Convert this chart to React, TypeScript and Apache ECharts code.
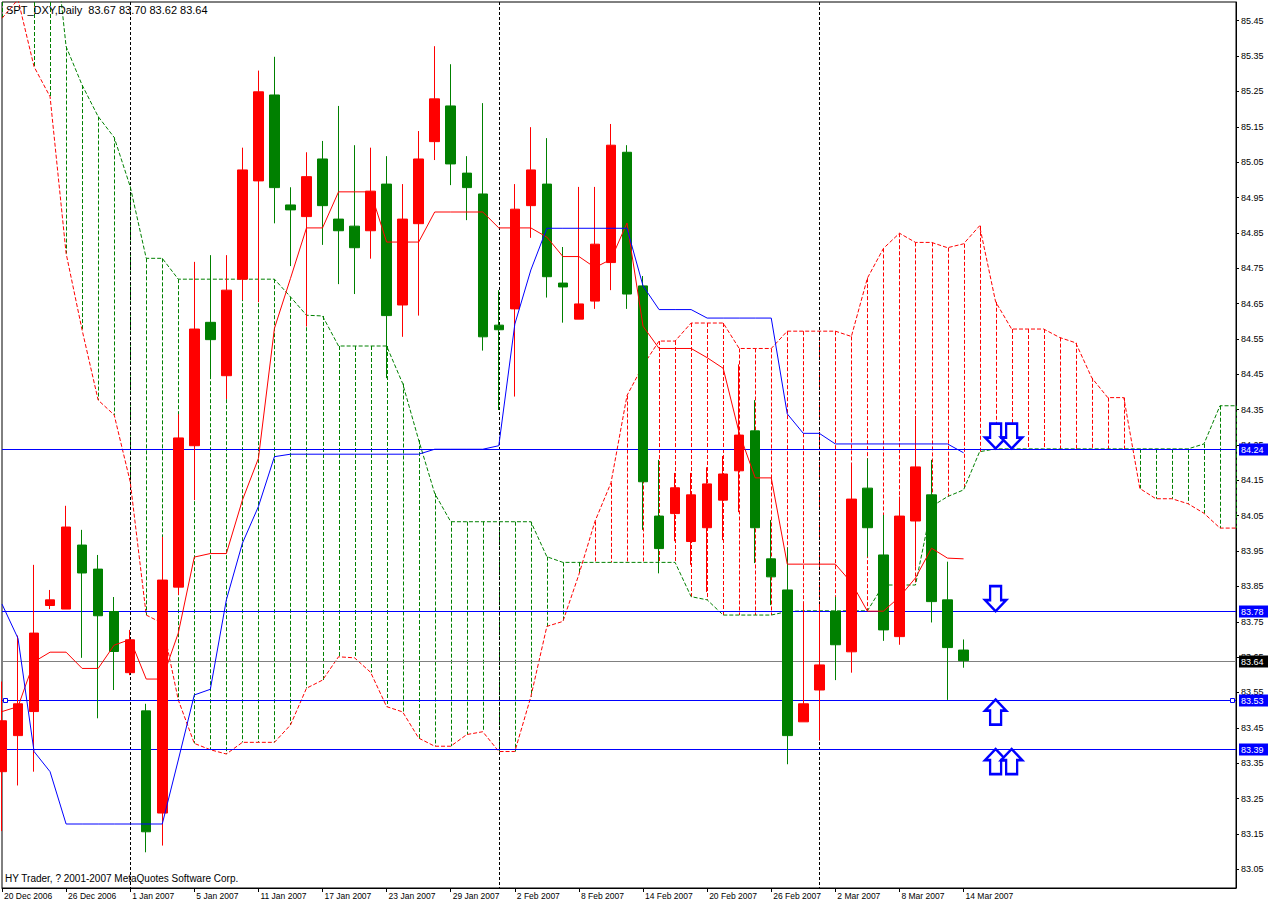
import React, { useEffect, useRef } from "react";
import * as echarts from "echarts";

const dates = [
  "20 Dec 2006", "21 Dec 2006", "22 Dec 2006", "25 Dec 2006", "26 Dec 2006", "27 Dec 2006", "28 Dec 2006", "29 Dec 2006",
  "1 Jan 2007", "2 Jan 2007", "3 Jan 2007", "4 Jan 2007", "5 Jan 2007", "8 Jan 2007", "9 Jan 2007", "10 Jan 2007",
  "11 Jan 2007", "12 Jan 2007", "15 Jan 2007", "16 Jan 2007", "17 Jan 2007", "18 Jan 2007", "19 Jan 2007", "22 Jan 2007",
  "23 Jan 2007", "24 Jan 2007", "25 Jan 2007", "26 Jan 2007", "29 Jan 2007", "30 Jan 2007", "31 Jan 2007", "1 Feb 2007",
  "2 Feb 2007", "5 Feb 2007", "6 Feb 2007", "7 Feb 2007", "8 Feb 2007", "9 Feb 2007", "12 Feb 2007", "13 Feb 2007",
  "14 Feb 2007", "15 Feb 2007", "16 Feb 2007", "19 Feb 2007", "20 Feb 2007", "21 Feb 2007", "22 Feb 2007", "23 Feb 2007",
  "26 Feb 2007", "27 Feb 2007", "28 Feb 2007", "1 Mar 2007", "2 Mar 2007", "5 Mar 2007", "6 Mar 2007", "7 Mar 2007",
  "8 Mar 2007", "9 Mar 2007", "12 Mar 2007", "13 Mar 2007", "14 Mar 2007",
  "15 Mar 2007", "16 Mar 2007", "19 Mar 2007", "20 Mar 2007", "21 Mar 2007", "22 Mar 2007", "23 Mar 2007", "26 Mar 2007",
  "27 Mar 2007", "28 Mar 2007", "29 Mar 2007", "30 Mar 2007", "2 Apr 2007", "3 Apr 2007", "4 Apr 2007", "5 Apr 2007", "6 Apr 2007",
];

const labelDates = [
  "20 Dec 2006", "26 Dec 2006", "1 Jan 2007", "5 Jan 2007", "11 Jan 2007", "17 Jan 2007", "23 Jan 2007", "29 Jan 2007",
  "2 Feb 2007", "8 Feb 2007", "14 Feb 2007", "20 Feb 2007", "26 Feb 2007", "2 Mar 2007", "8 Mar 2007", "14 Mar 2007",
];

const opens = [
  83.326, 83.428, 83.496, 83.796, 83.786, 83.967, 83.899, 83.779, 83.606, 83.498,
  83.209, 83.848, 84.248, 84.597, 84.446, 84.719, 84.997, 85.240, 84.929, 84.896,
  85.059, 84.889, 84.869, 84.856, 84.988, 84.646, 84.876, 85.108, 85.209, 85.019,
  84.960, 84.589, 84.635, 84.927, 84.988, 84.708, 84.606, 84.657, 84.766, 85.078,
  84.700, 84.049, 84.056, 83.977, 84.016, 84.094, 84.177, 84.290, 83.928, 83.840,
  83.467, 83.557, 83.779, 83.665, 84.128, 83.939, 83.708, 84.035, 84.109, 83.812,
  83.67,
];
const highs = [
  83.581, 83.711, 83.911, 83.840, 84.078, 84.010, 83.939, 83.820, 83.727, 83.518,
  83.990, 84.337, 84.768, 84.787, 84.787, 85.091, 85.309, 85.348, 84.979, 85.078,
  85.110, 85.209, 85.098, 85.091, 85.067, 84.988, 85.138, 85.378, 85.327, 85.067,
  85.217, 84.688, 84.988, 85.149, 85.118, 84.810, 84.980, 84.980, 85.158, 85.098,
  84.728, 84.208, 84.171, 84.171, 84.187, 84.219, 84.478, 84.377, 84.038, 83.960,
  83.800, 83.800, 83.820, 84.198, 84.212, 84.052, 84.104, 84.332, 84.208, 83.920,
  83.70,
];
const lows = [
  83.158, 83.287, 83.326, 83.786, 83.786, 83.648, 83.477, 83.557, 83.599, 83.098,
  83.117, 83.826, 84.094, 84.437, 84.380, 84.660, 84.654, 84.877, 84.756, 84.585,
  84.816, 84.705, 84.677, 84.777, 84.439, 84.556, 84.616, 85.056, 84.985, 84.886,
  84.517, 84.349, 84.387, 84.836, 84.667, 84.596, 84.606, 84.635, 84.688, 84.635,
  84.010, 83.887, 83.978, 83.911, 83.834, 83.981, 84.060, 83.916, 83.797, 83.347,
  83.467, 83.414, 83.585, 83.606, 83.934, 83.696, 83.685, 83.906, 83.748, 83.529,
  83.62,
];
const closes = [
  83.470, 83.518, 83.718, 83.812, 84.018, 83.888, 83.767, 83.666, 83.699, 83.156,
  83.868, 84.270, 84.578, 84.548, 84.688, 85.028, 85.249, 84.978, 84.915, 85.009,
  84.927, 84.856, 84.808, 84.968, 84.616, 84.889, 85.059, 85.229, 85.045, 84.978,
  84.556, 84.576, 84.917, 85.028, 84.726, 84.697, 84.649, 84.818, 85.098, 84.677,
  84.146, 83.957, 84.129, 84.109, 84.140, 84.168, 84.278, 84.016, 83.877, 83.428,
  83.518, 83.628, 83.685, 84.097, 84.016, 83.727, 84.049, 84.188, 83.807, 83.677,
  83.64,
];

const tenkan = [
  83.496, 83.510, 83.637, 83.664, 83.664, 83.618, 83.618, 83.684, 83.700, 83.588,
  83.588, 83.718, 83.933, 83.943, 83.943, 84.094, 84.212, 84.580, 84.721, 84.864,
  84.864, 84.966, 84.966, 84.966, 84.824, 84.824, 84.824, 84.909, 84.909, 84.909,
  84.909, 84.864, 84.864, 84.864, 84.838, 84.783, 84.783, 84.752, 84.775, 84.878,
  84.586, 84.523, 84.523, 84.523, 84.497, 84.467, 84.284, 84.157, 84.157, 83.913,
  83.913, 83.913, 83.913, 83.861, 83.780, 83.780, 83.820, 83.874, 83.958, 83.930,
  83.928,
];
const kijun = [
  83.800, 83.703, 83.383, 83.326, 83.178, 83.178, 83.178, 83.178, 83.178, 83.178,
  83.178, 83.359, 83.543, 83.559, 83.812, 83.972, 84.076, 84.217, 84.224, 84.224,
  84.224, 84.224, 84.224, 84.224, 84.224, 84.224, 84.224, 84.238, 84.238, 84.238,
  84.238, 84.248, 84.592, 84.745, 84.863, 84.863, 84.863, 84.863, 84.863, 84.863,
  84.700, 84.633, 84.633, 84.633, 84.609, 84.609, 84.609, 84.609, 84.609, 84.338,
  84.283, 84.283, 84.253, 84.253, 84.253, 84.253, 84.253, 84.253, 84.253, 84.253,
  84.228,
];

const spanA = [
  85.457, 85.510, 85.320, 85.235, 84.792, 84.575, 84.377, 84.335, 84.146, 83.769,
  83.746, 83.529, 83.406, 83.388, 83.376, 83.409, 83.409, 83.409, 83.458, 83.562,
  83.585, 83.651, 83.648, 83.607, 83.510, 83.495, 83.421, 83.398, 83.398, 83.431,
  83.439, 83.383, 83.383, 83.538, 83.737, 83.751, 83.884, 84.034, 84.143, 84.390,
  84.475, 84.544, 84.544, 84.595, 84.595, 84.595, 84.523, 84.523, 84.523, 84.572,
  84.572, 84.572, 84.572, 84.557, 84.722, 84.806, 84.849, 84.823, 84.823, 84.808,
  84.819, 84.870, 84.655, 84.578, 84.578, 84.578, 84.554, 84.539, 84.440, 84.384,
  84.384, 84.127, 84.098, 84.098, 84.084, 84.057, 84.015, 84.015,
];
const spanB = [
  85.800, 85.800, 85.800, 85.800, 85.377, 85.268, 85.179, 85.120, 84.981, 84.778,
  84.778, 84.719, 84.719, 84.719, 84.719, 84.719, 84.719, 84.719, 84.669, 84.617,
  84.615, 84.530, 84.530, 84.530, 84.530, 84.424, 84.264, 84.113, 84.033, 84.033,
  84.033, 84.033, 84.033, 84.033, 83.934, 83.918, 83.918, 83.918, 83.918, 83.918,
  83.918, 83.918, 83.918, 83.821, 83.812, 83.769, 83.769, 83.769, 83.769, 83.779,
  83.781, 83.781, 83.781, 83.781, 83.781, 83.854, 83.854, 83.854, 84.076, 84.104,
  84.123, 84.231, 84.239, 84.239, 84.239, 84.239, 84.239, 84.239, 84.239, 84.239,
  84.239, 84.239, 84.239, 84.239, 84.239, 84.253, 84.361, 84.361,
];

const priceTicks = [
  83.05, 83.15, 83.25, 83.35, 83.45, 83.55, 83.65, 83.75, 83.85, 83.95, 84.05, 84.15, 84.25,
  84.35, 84.45, 84.55, 84.65, 84.75, 84.85, 84.95, 85.05, 85.15, 85.25, 85.35, 85.45,
];

const separators = ["1 Jan 2007", "1 Feb 2007", "1 Mar 2007"];
const blueLevels = [84.24, 83.78, 83.53, 83.39];
const markedLevel = 83.53;
const bidPrice = 83.64;
const downArrows = [["16 Mar 2007", 84.24], ["19 Mar 2007", 84.24], ["16 Mar 2007", 83.78]];
const upArrows = [["16 Mar 2007", 83.53], ["16 Mar 2007", 83.39], ["19 Mar 2007", 83.39]];
const titleText = "SPT_DXY,Daily  83.67 83.70 83.62 83.64";
const copyrightText = "HY Trader, ? 2001-2007 MetaQuotes Software Corp.";

const FONT = "Liberation Sans, Arial, sans-serif";
const RED = "#ff0000";
const GREEN = "#008000";
const BLUE = "#0000ff";

const DOWN_ARROW = "path://M5,0 L16,0 L16,14 L21,14 L10.5,25 L0,14 L5,14 Z";
const UP_ARROW = "path://M10.5,0 L21,11 L16,11 L16,25 L5,25 L5,11 L0,11 Z";

export default function App() {
  const ref = useRef<HTMLDivElement>(null);

  useEffect(() => {
    if (!ref.current) return;
    const chart = echarts.init(ref.current, undefined, { renderer: "svg" });

    const candleData = opens.map((o, i) => [o, closes[i], lows[i], highs[i]]);
    const hatchData = dates.map((d, i) => [i, spanA[i], spanB[i]]);
    // kind: 0 = blue object line, 1 = blue line with end marks, 2 = bid line
    const levelData = [
      ...blueLevels.map((v) => [0, v, v === markedLevel ? 1 : 0]),
      [0, bidPrice, 2],
    ];

    const option: any = {
      animation: false,
      backgroundColor: "#ffffff",
      textStyle: { fontFamily: FONT },
      grid: {
        left: 2,
        top: 2,
        width: 1234,
        height: 886,
        show: true,
        borderColor: "#000000",
        borderWidth: 1,
        backgroundColor: "transparent",
      },
      xAxis: {
        type: "category",
        data: dates,
        boundaryGap: false,
        axisLine: { show: true, lineStyle: { color: "#000000", width: 1 } },
        axisTick: {
          show: true,
          length: 4,
          interval: (idx: number, val: string) => labelDates.includes(val),
          lineStyle: { color: "#000000" },
        },
        axisLabel: {
          show: true,
          interval: (idx: number, val: string) => labelDates.includes(val),
          align: "left",
          margin: 3,
          padding: [0, 0, 0, 2],
          color: "#000000",
          fontSize: 8.5,
          fontFamily: FONT,
        },
        splitLine: { show: false },
      },
      yAxis: {
        type: "value",
        position: "right",
        min: 82.997,
        max: 85.503,
        axisLine: { show: true, lineStyle: { color: "#000000", width: 1 } },
        axisTick: { show: true, length: 3, customValues: priceTicks, lineStyle: { color: "#000000" } },
        axisLabel: {
          show: true,
          customValues: priceTicks,
          formatter: (v: number) => v.toFixed(2),
          margin: 5,
          color: "#000000",
          fontSize: 9,
          fontFamily: FONT,
        },
        splitLine: { show: false },
      },
      graphic: [
        {
          type: "text",
          left: 6,
          top: 4,
          z: 100,
          style: { text: titleText, fill: "#000000", fontSize: 11, fontFamily: FONT },
        },
        {
          type: "text",
          left: 5,
          top: 873,
          z: 100,
          style: { text: copyrightText, fill: "#000000", fontSize: 10, fontFamily: FONT },
        },
      ],
      series: [
        {
          name: "kumo",
          type: "custom",
          z: 1,
          silent: true,
          data: hatchData,
          renderItem: (params: any, api: any) => {
            const i = api.value(0);
            const a = api.value(1);
            const b = api.value(2);
            const p1 = api.coord([i, a]);
            const p2 = api.coord([i, b]);
            const cs = params.coordSys;
            const top = cs.y;
            const bottom = cs.y + cs.height;
            const y1 = Math.max(top, Math.min(bottom, p1[1]));
            const y2 = Math.max(top, Math.min(bottom, p2[1]));
            const x = Math.round(p1[0]) + 0.5;
            return {
              type: "line",
              shape: { x1: x, y1: Math.min(y1, y2), x2: x, y2: Math.max(y1, y2) },
              style: { stroke: a > b ? RED : GREEN, lineWidth: 1, lineDash: [4, 2] },
            };
          },
        },
        {
          name: "Senkou Span A",
          type: "line",
          z: 2,
          silent: true,
          data: spanA,
          symbol: "none",
          lineStyle: { color: RED, width: 1, type: [4, 2] },
        },
        {
          name: "Senkou Span B",
          type: "line",
          z: 2,
          silent: true,
          data: spanB,
          symbol: "none",
          lineStyle: { color: GREEN, width: 1, type: [4, 2] },
        },
        {
          name: "separators",
          type: "custom",
          z: 2,
          silent: true,
          data: separators.map((d) => [d]),
          renderItem: (params: any, api: any) => {
            const cs = params.coordSys;
            const x = Math.round(api.coord([api.value(0), 84])[0]) + 0.5;
            return {
              type: "line",
              shape: { x1: x, y1: cs.y, x2: x, y2: cs.y + cs.height },
              style: { stroke: "#000000", lineWidth: 1, lineDash: [3, 2] },
            };
          },
        },
        {
          name: "levels",
          type: "custom",
          z: 3,
          silent: true,
          clip: false,
          data: levelData,
          renderItem: (params: any, api: any) => {
            const v = api.value(1);
            const kind = api.value(2);
            const cs = params.coordSys;
            const y = Math.round(api.coord([0, v])[1]) + 0.5;
            const right = cs.x + cs.width;
            const lineColor = kind === 2 ? "#808080" : BLUE;
            const bg = kind === 2 ? "#000000" : BLUE;
            const children: any[] = [
              {
                type: "line",
                shape: { x1: cs.x, y1: y, x2: right, y2: y },
                style: { stroke: lineColor, lineWidth: 1 },
              },
              {
                type: "rect",
                shape: { x: right + 3, y: y - 6, width: 29, height: 12 },
                style: { fill: bg },
              },
              {
                type: "text",
                x: right + 5,
                y: y + 0.5,
                style: {
                  text: Number(v).toFixed(2),
                  fill: "#ffffff",
                  fontSize: 9,
                  fontFamily: FONT,
                  align: "left",
                  verticalAlign: "middle",
                },
              },
            ];
            if (kind === 1) {
              children.push(
                { type: "rect", shape: { x: cs.x + 1.5, y: y - 2, width: 4, height: 4 }, style: { fill: "#ffffff", stroke: BLUE, lineWidth: 1 } },
                { type: "rect", shape: { x: right - 5.5, y: y - 2, width: 4, height: 4 }, style: { fill: "#ffffff", stroke: BLUE, lineWidth: 1 } }
              );
            }
            return { type: "group", children };
          },
        },
        {
          name: "SPT_DXY",
          type: "candlestick",
          z: 4,
          silent: true,
          barWidth: 10,
          data: candleData,
          itemStyle: {
            color: RED,
            color0: GREEN,
            borderColor: RED,
            borderColor0: GREEN,
            borderWidth: 1,
          },
        },
        {
          name: "Tenkan-sen",
          type: "line",
          z: 5,
          silent: true,
          data: tenkan,
          symbol: "none",
          lineStyle: { color: RED, width: 1 },
        },
        {
          name: "Kijun-sen",
          type: "line",
          z: 5,
          silent: true,
          data: kijun,
          symbol: "none",
          lineStyle: { color: BLUE, width: 1 },
        },
        {
          name: "down arrows",
          type: "scatter",
          z: 6,
          silent: true,
          data: downArrows,
          symbol: DOWN_ARROW,
          symbolSize: [21, 25],
          symbolOffset: [0, -12.5],
          itemStyle: { color: "#ffffff", borderColor: BLUE, borderWidth: 2.5, opacity: 1 },
        },
        {
          name: "up arrows",
          type: "scatter",
          z: 6,
          silent: true,
          data: upArrows,
          symbol: UP_ARROW,
          symbolSize: [21, 25],
          symbolOffset: [0, 12.5],
          itemStyle: { color: "#ffffff", borderColor: BLUE, borderWidth: 2.5, opacity: 1 },
        },
      ],
    };

    chart.setOption(option);
    return () => chart.dispose();
  }, []);

  return (
    <div
      ref={ref}
      style={{ position: "fixed", left: 0, top: 0, width: 1274, height: 905, background: "#ffffff" }}
    />
  );
}
